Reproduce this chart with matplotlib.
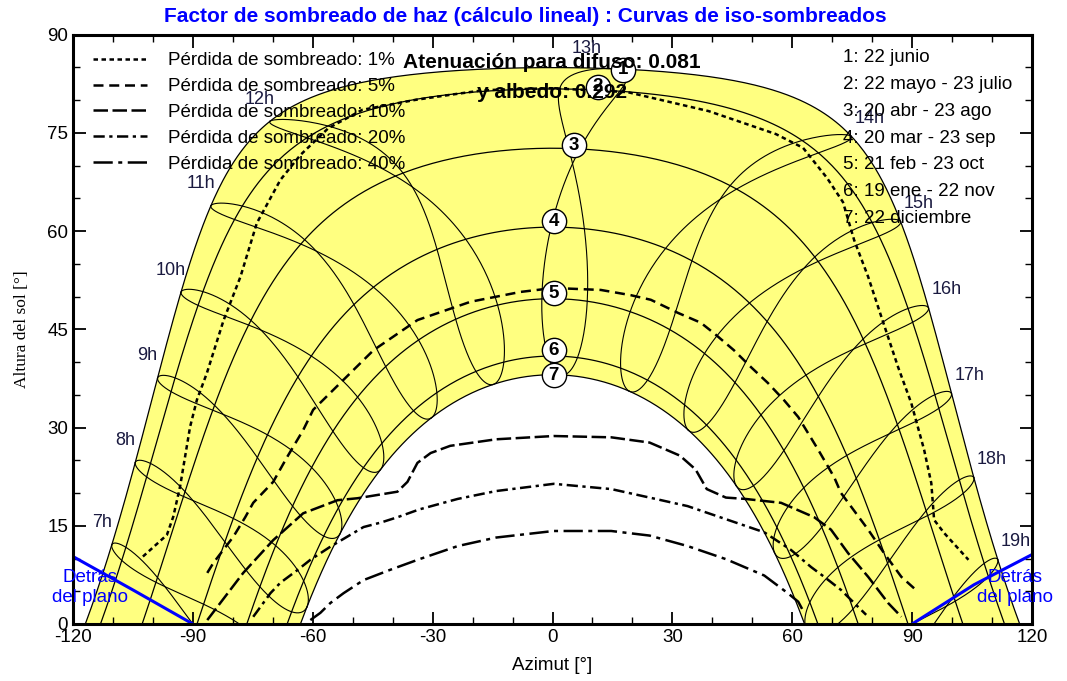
"""Sun path diagram with iso-shading curves (PVsyst style), redrawn in matplotlib."""
import matplotlib
matplotlib.use("Agg")
import matplotlib.pyplot as plt
import numpy as np
from matplotlib.lines import Line2D
from matplotlib.ticker import MultipleLocator

plt.rcParams["font.family"] = ["Liberation Sans", "DejaVu Sans"]
plt.rcParams["axes.unicode_minus"] = False

# --- site / time reference ---------------------------------------------------
LATITUDE = 28.5            # deg N (noon heights: 85 deg in June, 38 deg in December)
LEGAL_MINUS_SOLAR = 0.88   # h, legal time minus mean solar time

# date curves (legend on the right); day-of-year pairs
DATE_LABELS = ["1: 22 junio", "2: 22 mayo - 23 julio", "3: 20 abr - 23 ago",
               "4: 20 mar - 23 sep", "5: 21 feb - 23 oct", "6: 19 ene - 22 nov",
               "7: 22 diciembre"]
DATE_DAY_A = [173, 142, 110, 79, 52, 19, 356]
DATE_DAY_B = [173, 204, 235, 266, 296, 326, 356]
# numbered markers
MARKER_AZ = [17.6, 11.3, 5.3, 0.3, 0.3, 0.3, 0.3]
MARKER_EL = [84.6, 82.0, 73.1, 61.5, 50.5, 41.8, 38.0]

HOURS = [7, 8, 9, 10, 11, 12, 13, 14, 15, 16, 17, 18, 19]

# iso-shading curves (azimuth deg, sun height deg)
ISO_LABELS = ["Pérdida de sombreado: 1%", "Pérdida de sombreado: 5%",
              "Pérdida de sombreado: 10%", "Pérdida de sombreado: 20%",
              "Pérdida de sombreado: 40%"]
ISO_1_AZ = [-102.5, -96.5, -94.9, -93.2, -90.7, -89.0, -86.5, -82.3, -78.1, -74.0, -68.1,
            -63.1, -56.1, -47.6, -34.5, -25.5, -17.2, -0.4, 18.8, 39.1, 55.9, 62.7,
            68.7, 72.7, 75.5, 79.0, 82.3, 86.5, 89.8, 93.0, 94.8, 95.5, 98.0, 104.1]
ISO_1_EL = [10.3, 13.6, 16.4, 21.0, 30.1, 34.2, 38.3, 46.4, 53.0, 61.2, 67.8,
            71.6, 75.7, 78.5, 80.0, 80.8, 81.5, 81.8, 81.2, 78.3, 74.8, 72.7,
            68.1, 64.4, 58.6, 53.0, 46.9, 39.2, 33.7, 26.6, 21.5, 15.9, 13.9, 9.8]
ISO_5_AZ = [-86.4, -84.9, -79.9, -76.9, -74.9, -69.9, -66.4, -62.4, -59.9, -53.1, -44.8,
            -33.8, -20.5, -8.0, 0.3, 12.1, 19.6, 24.6, 31.4, 37.1, 40.4, 45.4, 49.7,
            53.9, 57.9, 61.5, 66.5, 70.5, 72.2, 79.0, 83.0, 87.3, 91.5]
ISO_5_EL = [7.8, 9.3, 13.3, 16.3, 18.5, 21.7, 25.5, 29.6, 32.7, 36.8, 41.8,
            46.4, 49.2, 50.7, 51.3, 51.0, 50.2, 49.5, 47.5, 46.0, 44.4, 41.8, 39.2,
            36.8, 34.2, 31.6, 26.6, 22.4, 20.0, 14.4, 10.8, 7.2, 4.9]
ISO_10_AZ = [-86.4, -77.4, -69.9, -62.4, -53.8, -48.8, -38.8, -36.3, -33.8, -30.5, -25.6,
             -14.1, 0.3, 14.7, 24.3, 31.9, 35.8, 38.6, 43.4, 48.2, 57.2, 65.5, 69.7,
             74.0, 79.0, 84.0, 87.3]
ISO_10_EL = [0.6, 7.8, 12.8, 16.9, 18.9, 19.2, 20.2, 21.7, 24.6, 26.1, 27.2,
             28.2, 28.7, 28.5, 27.7, 25.7, 23.6, 20.6, 19.3, 19.1, 18.5, 16.3, 14.4,
             10.8, 7.2, 3.2, 1.1]
ISO_20_AZ = [-74.9, -73.1, -70.6, -68.1, -63.9, -60.6, -55.6, -47.3, -42.9, -38.8, -33.3,
             -23.7, -14.1, 0.3, 14.7, 24.3, 33.8, 43.4, 53.0, 59.7, 64.7, 68.0, 72.2,
             76.5, 78.5]
ISO_20_EL = [1.1, 2.6, 4.7, 6.3, 8.2, 9.8, 11.8, 14.8, 15.5, 16.3, 17.5,
             19.1, 20.3, 21.4, 20.6, 19.3, 18.0, 16.0, 14.0, 11.3, 8.7, 7.2, 5.2,
             2.6, 1.4]
ISO_40_AZ = [-60.6, -58.1, -55.6, -52.3, -47.3, -40.5, -33.3, -23.7, -14.1, 0.3, 14.7,
             24.3, 33.8, 43.4, 53.0, 58.9, 61.5, 63.0]
ISO_40_EL = [0.6, 1.7, 3.2, 4.7, 6.7, 8.3, 9.9, 11.9, 13.2, 14.2, 14.2,
             13.5, 11.9, 9.9, 7.4, 4.7, 3.4, 1.7]
ISO_CURVES = [(ISO_1_AZ, ISO_1_EL), (ISO_5_AZ, ISO_5_EL), (ISO_10_AZ, ISO_10_EL),
              (ISO_20_AZ, ISO_20_EL), (ISO_40_AZ, ISO_40_EL)]
ISO_DASHES = [(0, (1.8, 1.4)), (0, (4.0, 2.3)), (0, (5.8, 1.8)),
              (0, (4.5, 1.8, 1.3, 1.8)), (0, (7.7, 2.2, 1.6, 2.2))]

# "behind the plane" limits (blue)
BEHIND_LEFT_AZ = [-120.0, -105.0, -90.0]
BEHIND_LEFT_EL = [10.3, 5.2, 0.0]
BEHIND_RIGHT_AZ = [90.0, 105.5, 120.0]
BEHIND_RIGHT_EL = [0.0, 6.0, 10.6]

ATTENUATION = 0.081
ALBEDO = 0.292


def declination(day):
    return 23.45 * np.sin(np.radians(360.0 * (284 + np.asarray(day, float)) / 365.0))


def equation_of_time(day):
    """minutes, apparent minus mean solar time"""
    b = np.radians(360.0 * (np.asarray(day, float) - 81) / 364.0)
    return 9.87 * np.sin(2 * b) - 7.53 * np.cos(b) - 1.5 * np.sin(b)


def sun_position(decl_deg, hour_angle_deg):
    lat, d, h = np.radians(LATITUDE), np.radians(decl_deg), np.radians(hour_angle_deg)
    sin_el = np.sin(lat) * np.sin(d) + np.cos(lat) * np.cos(d) * np.cos(h)
    el = np.degrees(np.arcsin(np.clip(sin_el, -1, 1)))
    az = np.degrees(np.arctan2(np.sin(h) * np.cos(d),
                               np.cos(h) * np.sin(lat) * np.cos(d) - np.sin(d) * np.cos(lat)))
    return az, el


def legal_hour_angle(hour, day):
    solar = hour - LEGAL_MINUS_SOLAR + equation_of_time(day) / 60.0
    return 15.0 * (solar - 12.0)


def day_path(decl_deg):
    h0 = np.degrees(np.arccos(-np.tan(np.radians(LATITUDE)) * np.tan(np.radians(decl_deg))))
    return sun_position(decl_deg, np.linspace(-h0, h0, 400))


fig = plt.figure(figsize=(10.67, 6.81), dpi=100)
ax = fig.add_axes([73 / 1067, 57 / 681, 959 / 1067, 589.5 / 681])
ax.set_xlim(-120, 120)
ax.set_ylim(0, 90)

decl_curves = [(declination(a) + declination(b)) / 2 for a, b in zip(DATE_DAY_A, DATE_DAY_B)]

# yellow band between the June and December paths
az_jun, el_jun = day_path(decl_curves[0])
az_dec, el_dec = day_path(decl_curves[-1])
ax.fill(np.concatenate([az_jun, az_dec[::-1]]), np.concatenate([el_jun, el_dec[::-1]]),
        facecolor="#ffff80", edgecolor="none", zorder=1)

for d in decl_curves:
    az, el = day_path(d)
    ax.plot(az, el, color="black", lw=0.9, zorder=2)

# hour lines: two branches per hour (June -> December and December -> June)
branch_days = [np.arange(DATE_DAY_A[0], DATE_DAY_B[-1] + 1),
               np.arange(DATE_DAY_B[-1], DATE_DAY_A[0] + 366)]
for hr in HOURS:
    for days in branch_days:
        az, el = sun_position(declination(days), legal_hour_angle(hr, days))
        el = np.where(el >= 0, el, np.nan)
        ax.plot(az, el, color="black", lw=0.8, zorder=2)
    az, el = sun_position(declination(DATE_DAY_A[0]), legal_hour_angle(hr, DATE_DAY_A[0]))
    if hr < 13:
        off = (-10, 22)
    elif hr == 13:
        off = (-22, 20)
    else:
        off = (18, 18)
    ax.annotate(f"{hr}h", (az, el), xytext=off, textcoords="offset pixels",
                ha="center", va="center", fontsize=13, color="#1a1a40", zorder=6)

# iso-shading curves
handles = []
for (az, el), ls, lab in zip(ISO_CURVES, ISO_DASHES, ISO_LABELS):
    ax.plot(az, el, color="black", lw=1.8, linestyle=ls, zorder=3)
    handles.append(Line2D([], [], color="black", lw=1.8, linestyle=ls, label=lab))

ax.plot(BEHIND_LEFT_AZ, BEHIND_LEFT_EL, color="#0000ff", lw=2.2, zorder=4)
ax.plot(BEHIND_RIGHT_AZ, BEHIND_RIGHT_EL, color="#0000ff", lw=2.2, zorder=4)

# numbered markers on the date curves
for i, (maz, mel) in enumerate(zip(MARKER_AZ, MARKER_EL)):
    ax.plot(maz, mel, marker="o", ms=17.5, mfc="white", mec="black", mew=1.0, zorder=5)
    ax.text(maz, mel, str(i + 1), ha="center", va="center", fontsize=13.5,
            fontweight="bold", zorder=6)

leg = ax.legend(handles=handles, loc="upper left", bbox_to_anchor=(93 / 1067, 1 - 52 / 681),
                bbox_transform=fig.transFigure, frameon=False, fontsize=13.5,
                handlelength=2.9, handletextpad=1.1, labelspacing=0.47, borderpad=0,
                borderaxespad=0)
leg.set_zorder(7)

for i, lab in enumerate(DATE_LABELS):
    fig.text(843 / 1067, 1 - (58 + 26.7 * i) / 681, lab, ha="left", va="center",
             fontsize=13.5, zorder=7)

fig.text(552 / 1067, 1 - 63 / 681, f"Atenuación para difuso: {ATTENUATION:.3f}",
         ha="center", va="center", fontsize=15, fontweight="bold")
fig.text(552 / 1067, 1 - 92 / 681, f"y albedo: {ALBEDO:.3f}",
         ha="center", va="center", fontsize=15, fontweight="bold")

for xc in (90, 1015):
    fig.text(xc / 1067, 1 - 578 / 681, "Detrás", ha="center", va="center",
             fontsize=13.5, color="#0000ff")
    fig.text(xc / 1067, 1 - 597 / 681, "del plano", ha="center", va="center",
             fontsize=13.5, color="#0000ff")

fig.text(525 / 1067, 1 - 17 / 681,
         "Factor de sombreado de haz (cálculo lineal) : Curvas de iso-sombreados",
         ha="center", va="center", fontsize=15, fontweight="bold", color="#0000ff")

ax.set_xlabel("Azimut [°]", fontsize=13.5, labelpad=8)
ax.set_ylabel("Altura del sol [°]", fontsize=12.5, family="Liberation Serif", labelpad=12)
ax.xaxis.set_major_locator(MultipleLocator(30))
ax.xaxis.set_minor_locator(MultipleLocator(10))
ax.yaxis.set_major_locator(MultipleLocator(15))
ax.yaxis.set_minor_locator(MultipleLocator(5))
ax.tick_params(which="both", direction="in", top=True, right=True, labelsize=13.5)
ax.tick_params(which="major", length=9, width=1.3)
ax.tick_params(which="minor", length=5, width=1.0)
for sp in ax.spines.values():
    sp.set_linewidth(2.2)
    sp.set_zorder(8)

fig.savefig("out.png", dpi=100)
